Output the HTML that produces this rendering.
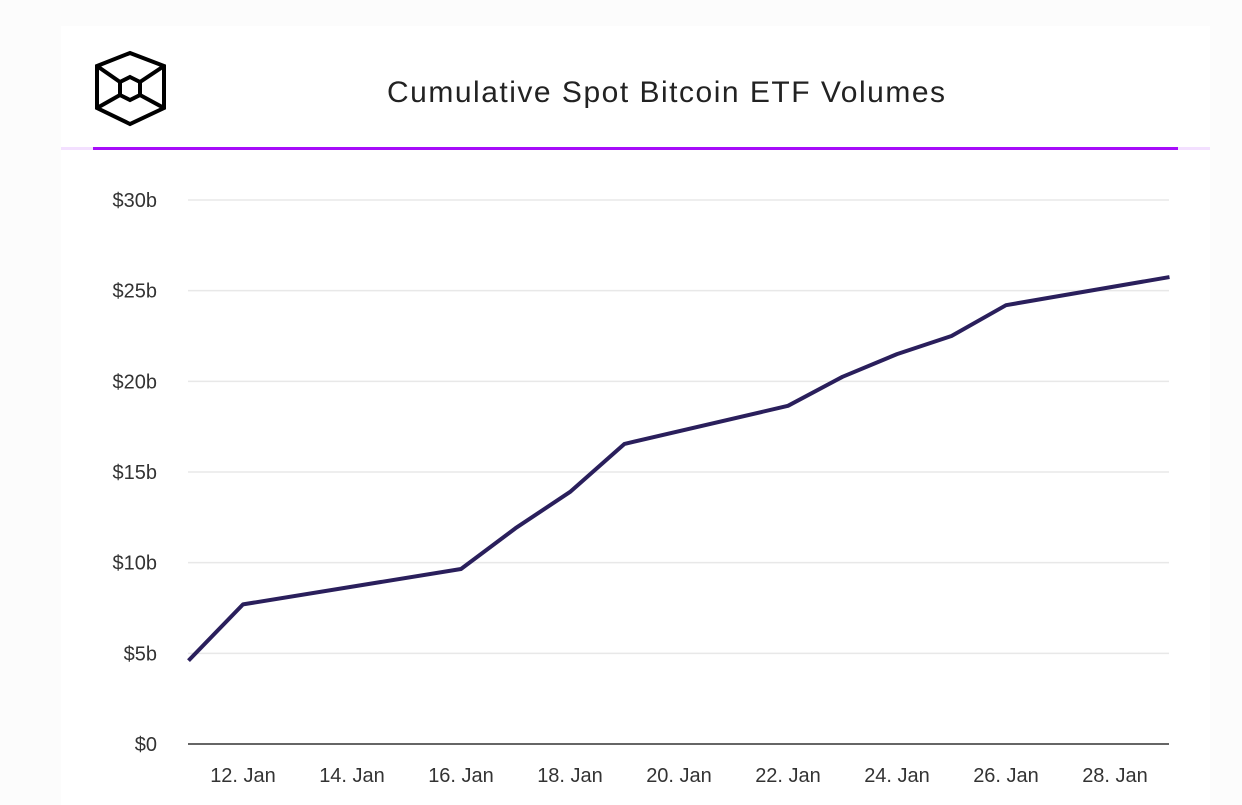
<!DOCTYPE html>
<html><head><meta charset="utf-8"><style>
body{margin:0;width:1242px;height:805px;background:#fcfcfc;font-family:"Liberation Sans",sans-serif;overflow:hidden}
#card{position:absolute;left:61px;top:26px;width:1149px;height:779px;background:#fff}
</style></head><body>
<div id="card"></div>
<svg width="1242" height="805" style="position:absolute;left:0;top:0">
<g fill="none" stroke="#000" stroke-width="4" stroke-linejoin="miter">
<polygon points="130,53 164,66 164,108 130,124 97,108 97,66"/>
<polygon points="130,77 140,82 140,95 130,100 120,95 120,82"/>
<line x1="97" y1="66" x2="120" y2="82"/><line x1="164" y1="66" x2="140" y2="82"/>
<line x1="97" y1="108" x2="120" y2="95"/><line x1="164" y1="108" x2="140" y2="95"/>
</g>
<text x="666" y="102" text-anchor="middle" font-size="30" textLength="558" lengthAdjust="spacing" fill="#222">Cumulative Spot Bitcoin ETF Volumes</text>
<rect x="61" y="147" width="1149" height="3" fill="#f3e0ff"/>
<rect x="93" y="147" width="1085" height="3" fill="#a60df9"/>
<g id="grid"></g><g id="xt"></g>
<path id="line" fill="none" stroke="#2a1f5c" stroke-width="4" stroke-linejoin="round"/>
</svg>
<script>
const days=[11,12,16,17,18,19,22,23,24,25,26,29];
const values=[4.6,7.7,9.65,11.9,13.9,16.55,18.65,20.25,21.5,22.5,24.2,25.75];
const yTicks=[0,5,10,15,20,25,30];
const yTickLabels=["$0","$5b","$10b","$15b","$20b","$25b","$30b"];
const xTicks=[12,14,16,18,20,22,24,26,28];
const xTickLabels=["12. Jan","14. Jan","16. Jan","18. Jan","20. Jan","22. Jan","24. Jan","26. Jan","28. Jan"];
const X=d=>188.5+(d-11)*54.5, Y=v=>744-v*18.133;
const ns="http://www.w3.org/2000/svg";
const g=document.getElementById('grid'), xt=document.getElementById('xt');
yTicks.forEach((t,i)=>{
 const l=document.createElementNS(ns,'line');
 l.setAttribute('x1',188);l.setAttribute('x2',1169);l.setAttribute('y1',Y(t));l.setAttribute('y2',Y(t));
 l.setAttribute('stroke',t===0?'#333':'#e8e8e8');l.setAttribute('stroke-width',1.5);
 
 
 g.appendChild(l);
 const tx=document.createElementNS(ns,'text');
 tx.setAttribute('x',157);tx.setAttribute('y',Y(t)+7);tx.setAttribute('text-anchor','end');
 tx.setAttribute('font-size','20');tx.setAttribute('fill','#333');tx.textContent=yTickLabels[i];
 
 
 g.appendChild(tx);
});
xTicks.forEach((d,i)=>{
 const tx=document.createElementNS(ns,'text');
 tx.setAttribute('x',X(d));tx.setAttribute('y',782);tx.setAttribute('text-anchor','middle');
 tx.setAttribute('font-size','20');tx.setAttribute('fill','#333');tx.textContent=xTickLabels[i];
 
 
 xt.appendChild(tx);
});
document.getElementById('line').setAttribute('d',days.map((d,i)=>(i?'L':'M')+X(d)+','+Y(values[i])).join(' '));
</script>
</body></html>
